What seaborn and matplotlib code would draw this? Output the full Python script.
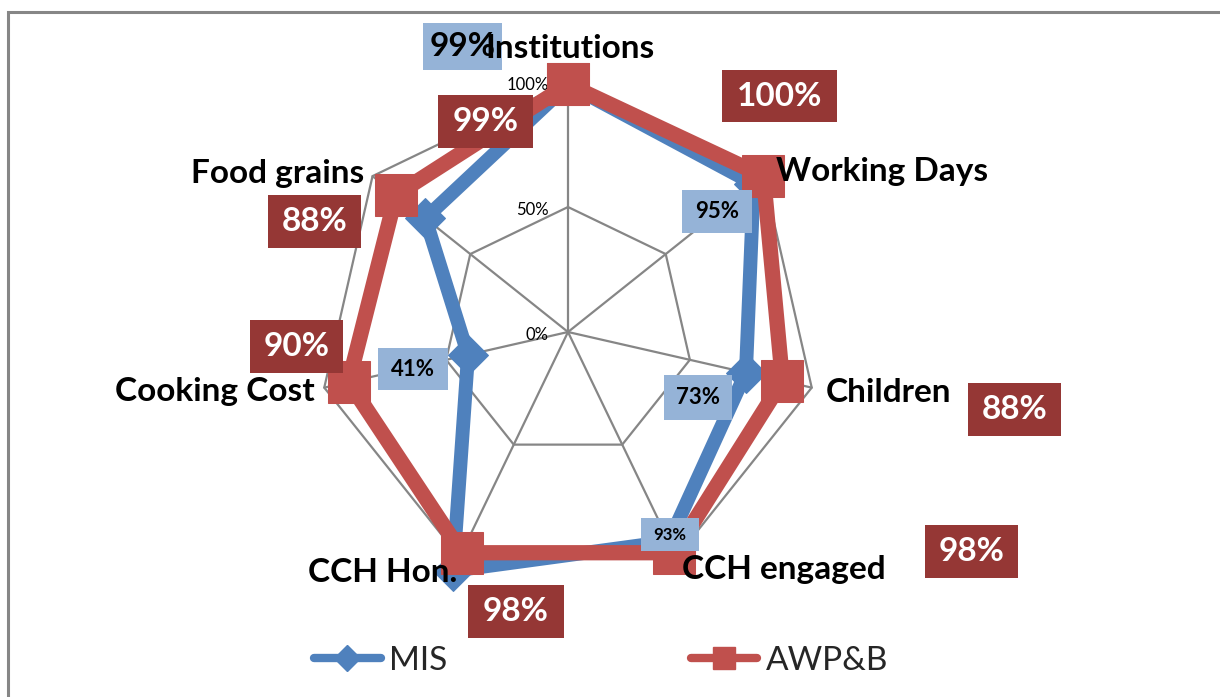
import numpy as np
import pandas as pd
import matplotlib
matplotlib.use("Agg")
import matplotlib.pyplot as plt
import seaborn as sns
from matplotlib.patches import Rectangle
from matplotlib.lines import Line2D

# ---------------- data ----------------
categories = ["Institutions", "Working Days", "Children", "CCH engaged",
              "CCH Hon.", "Cooking Cost", "Food grains"]
mis_values = [99, 95, 73, 93, 106, 41, 73]
awpb_values = [99, 100, 88, 98, 98, 90, 88]
series_names = ["MIS", "AWP&B"]
r_ticks = [0, 50, 100]
r_tick_labels = ["0%", "50%", "100%"]

# ---------------- style ----------------
W, H = 1220, 697
BLUE = "#4F81BD"
RED = "#C0504D"
BLUE_BOX = "#95B3D7"
RED_BOX = "#953735"
GRID = "#868686"

sns.set_theme(style="white")
plt.rcParams["font.family"] = ["Lato", "DejaVu Sans"]

fig = plt.figure(figsize=(W / 100, H / 100), dpi=100)
fig.patch.set_facecolor("white")


def fx(x):
    return x / W


def fy(y):
    return 1 - y / H


# chart-area border (cut off at right/bottom as in the reference)
fig.add_artist(Rectangle((fx(8), -0.1), 1.2, fy(12) + 0.1, transform=fig.transFigure,
                         fill=False, ec=GRID, lw=2.2, zorder=0))

cx, cy, R = 568, 332, 250
ax = fig.add_axes([fx(cx - R), fy(cy + R), 2 * R / W, 2 * R / H], projection="polar")
ax.set_theta_offset(np.pi / 2)
ax.set_theta_direction(-1)
ax.set_ylim(0, 100)
ax.grid(False)
ax.spines["polar"].set_visible(False)
ax.set_xticks([])
ax.set_yticks([])
ax.patch.set_alpha(0)

n = len(categories)
theta = np.linspace(0, 2 * np.pi, n, endpoint=False)
closed = np.append(theta, theta[0] + 2 * np.pi)

# polygon grid + spokes
for r in r_ticks[1:]:
    ax.plot(closed, [r] * (n + 1), color=GRID, lw=1.6, zorder=1, clip_on=False)
for t in theta:
    ax.plot([t, t], [0, r_ticks[-1]], color=GRID, lw=1.6, zorder=1, clip_on=False)
for r, lbl in zip(r_ticks, r_tick_labels):
    ax.annotate(lbl, xy=(0, r), xytext=(-14, -2), textcoords="offset points",
                ha="right", va="center", fontsize=12, color="black", zorder=2)

# series
df = pd.DataFrame({
    "theta": np.concatenate([closed, closed]),
    "value": mis_values + [mis_values[0]] + awpb_values + [awpb_values[0]],
    "series": [series_names[0]] * (n + 1) + [series_names[1]] * (n + 1),
})
sns.lineplot(data=df[df.series == "MIS"], x="theta", y="value", sort=False,
             estimator=None, color=BLUE, lw=10, marker="D", markersize=20,
             markeredgecolor=BLUE, ax=ax, legend=False, clip_on=False, zorder=3)
sns.lineplot(data=df[df.series == "AWP&B"], x="theta", y="value", sort=False,
             estimator=None, color=RED, lw=11, marker="s", markersize=30,
             markeredgecolor=RED, ax=ax, legend=False, clip_on=False, zorder=4)
ax.set_xlabel("")
ax.set_ylabel("")
ax.set_ylim(0, 100)

# category labels
cat_pos = [(570, 48), (882, 172), (888, 393), (784, 570), (383, 572), (215, 392), (278, 173)]
for name, (x, y) in zip(categories, cat_pos):
    fig.text(fx(x), fy(y), name, ha="center", va="center", fontsize=24,
             fontweight="bold", color="black", zorder=6)


# data label boxes
def box_label(x0, y0, x1, y1, text, fc, tc, fs):
    fig.add_artist(Rectangle((fx(x0), fy(y1)), (x1 - x0) / W, (y1 - y0) / H,
                             transform=fig.transFigure, fc=fc, ec="none", zorder=5))
    fig.text(fx((x0 + x1) / 2), fy((y0 + y1) / 2), text, ha="center", va="center",
             fontsize=fs, fontweight="bold", color=tc, zorder=7)


mis_boxes = [(423, 23, 500, 70, 24), (682, 190, 750, 233, 16), (664, 375, 730, 420, 16),
             (641, 518, 697, 551, 12), None, (378, 348, 446, 390, 16), None]
awpb_boxes = [(438, 95, 533, 148, 24), (722, 70, 837, 122, 24), (968, 383, 1061, 436, 24),
              (925, 525, 1018, 578, 24), (468, 585, 564, 638, 24), (250, 320, 343, 373, 24),
              (268, 195, 361, 248, 24)]
for v, b in zip(mis_values, mis_boxes):
    if b is not None:
        x0, y0, x1, y1, fs = b
        box_label(x0, y0, x1 + 2, y1, f"{min(v, 100)}%", BLUE_BOX, "black", fs)
for v, b in zip(awpb_values, awpb_boxes):
    x0, y0, x1, y1, fs = b
    box_label(x0, y0, x1, y1, f"{v}%", RED_BOX, "white", fs)

# legend
handles = [
    Line2D([], [], color=BLUE, lw=6, marker="D", markersize=13, solid_capstyle="round"),
    Line2D([], [], color=RED, lw=6, marker="s", markersize=16, solid_capstyle="round"),
]
fig.legend(handles, series_names, ncol=2, loc="center", bbox_to_anchor=(fx(601), fy(661)),
           frameon=False, fontsize=24, handlelength=2.0, handletextpad=0.25,
           columnspacing=7.3)

fig.savefig("out.png", dpi=100)
